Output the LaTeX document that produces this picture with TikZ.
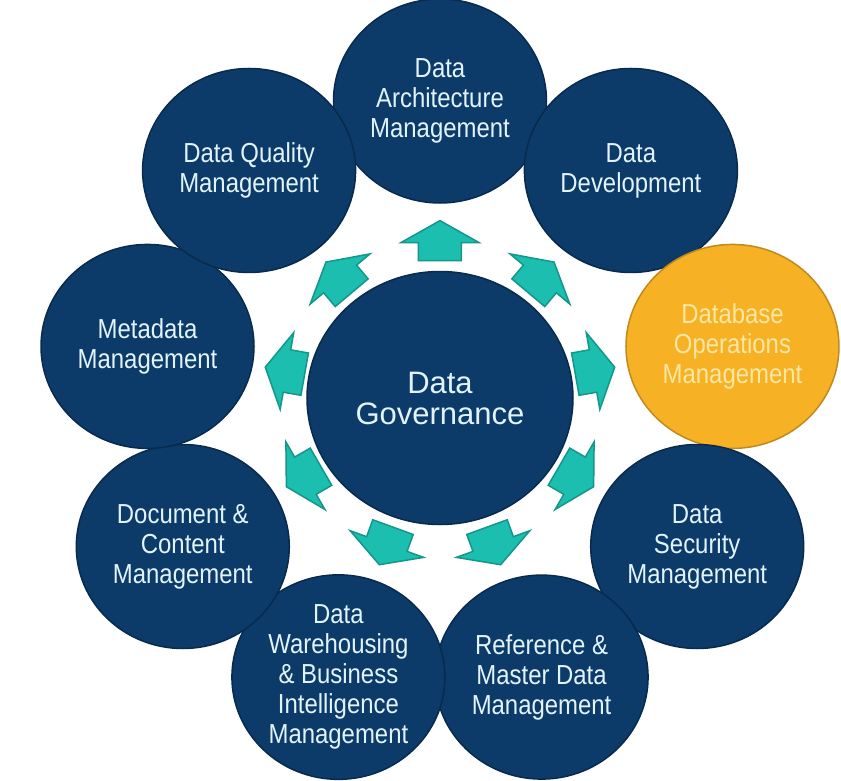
\documentclass[tikz,border=0pt]{standalone}
\usepackage{fontspec}
\setmainfont{Liberation Sans}
\newfontfamily\narrowsans{Liberation Sans}[FakeStretch=0.87]
\usetikzlibrary{shapes.geometric,calc}
\definecolor{navy}{HTML}{0C3B6A}
\definecolor{navyline}{HTML}{072A4D}
\definecolor{paleblue}{HTML}{E2F4FA}
\definecolor{gold}{HTML}{F6B124}
\definecolor{goldline}{HTML}{C08A1C}
\definecolor{goldtext}{HTML}{FBE7A4}
\definecolor{arrowteal}{HTML}{1CBEAF}
\definecolor{arrowline}{HTML}{12978A}
\tikzset{outarrow/.pic={
  \path[fill=arrowteal,draw=arrowline,line width=1.5pt,line join=miter]
    (-20,-21.5) -- (-2,-21.5) -- (-2,-39) -- (20,0) -- (-2,39) -- (-2,21.5) -- (-20,21.5) -- cycle;
}}

\begin{document}
\begin{tikzpicture}[x=1pt,y=1pt]
\useasboundingbox (-440,-382) rectangle (401,398);
\tikzstyle{every node}=[shape=ellipse,inner sep=0pt,align=center,draw=navyline,line width=1.5pt,fill=navy,text=paleblue];
\tikzstyle{area}=[minimum width=213pt,minimum height=204pt,font=\narrowsans\fontsize{27.5}{30}\selectfont];
\node (gov) [minimum width=266pt,minimum height=253pt,font=\fontsize{31}{31}\selectfont] at (0,0) {Data\\Governance};
\node (arch) [area] at (90:297) {Data\\Architecture\\Management};
\node (dev) [area] at (50:297) {Data\\Development};
\node (ops) [area,fill=gold,draw=goldline,text=goldtext] at (10:297) {Database\\Operations\\Management};
\node (sec) [area] at (-30:297) {Data\\Security\\Management};
\node (ref) [area] at (-70:297) {Reference \&\\Master Data\\Management};
\node (dwbi) [area] at (-110:297) {Data\\Warehousing\\\& Business\\Intelligence\\Management};
\node (doc) [area] at (-150:297) {Document \&\\Content\\Management};
\node (meta) [area] at (170:297) {Metadata\\Management};
\node (qual) [area] at (130:297) {Data Quality\\Management};
% arrows from the centre out to each area
\pic[rotate=90] at ($(gov)!0.53!(arch)$) {outarrow};
\pic[rotate=50] at ($(gov)!0.53!(dev)$) {outarrow};
\pic[rotate=10] at ($(gov)!0.53!(ops)$) {outarrow};
\pic[rotate=-30] at ($(gov)!0.53!(sec)$) {outarrow};
\pic[rotate=-70] at ($(gov)!0.53!(ref)$) {outarrow};
\pic[rotate=-110] at ($(gov)!0.53!(dwbi)$) {outarrow};
\pic[rotate=-150] at ($(gov)!0.53!(doc)$) {outarrow};
\pic[rotate=170] at ($(gov)!0.53!(meta)$) {outarrow};
\pic[rotate=130] at ($(gov)!0.53!(qual)$) {outarrow};
\end{tikzpicture}
\end{document}
